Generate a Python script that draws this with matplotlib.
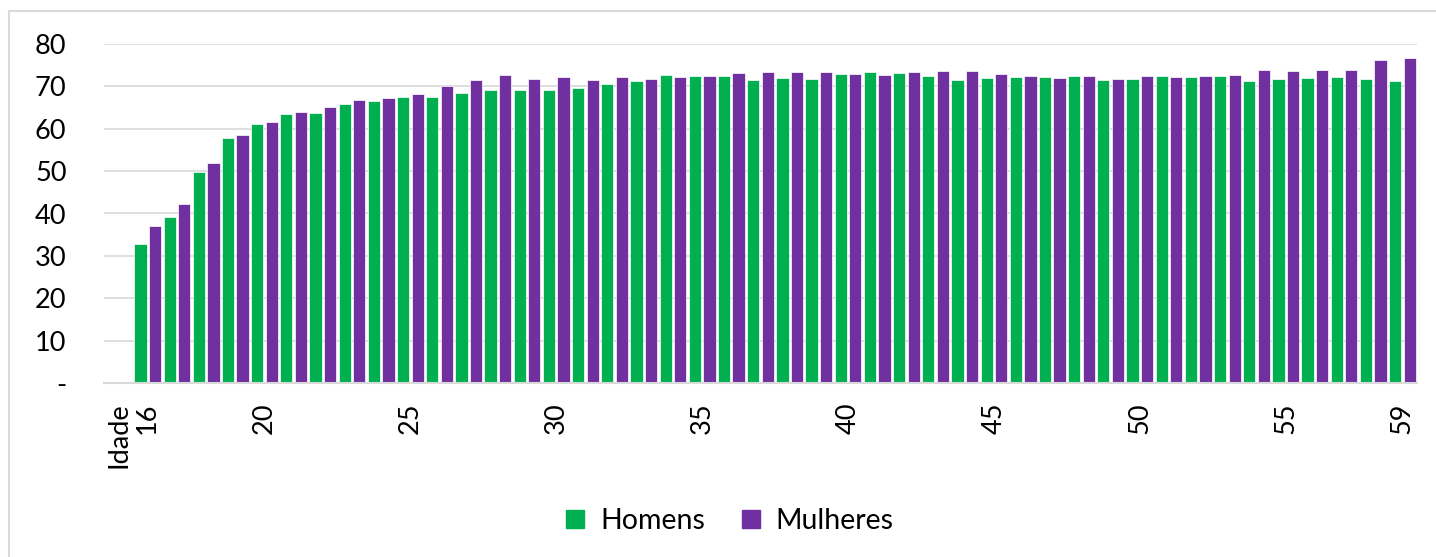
import matplotlib
matplotlib.use("Agg")
import matplotlib.pyplot as plt
import matplotlib.patches as mpatches
import numpy as np

plt.rcParams['font.family'] = ['Lato', 'DejaVu Sans']

categories = ['Idade'] + [str(a) for a in range(16, 60)]
shown_labels = ['Idade', '16', '20', '25', '30', '35', '40', '45', '50', '55', '59']

homens = [None,
          32.9, 39.2, 49.8, 57.8, 61.1, 63.4, 63.7, 65.8, 66.4, 67.4,
          67.5, 68.5, 69.0, 69.1, 69.1, 69.5, 70.6, 71.2, 72.6, 72.5,
          72.4, 71.4, 71.9, 71.6, 72.8, 73.3, 73.2, 72.5, 71.5, 71.9,
          72.1, 72.1, 72.4, 71.5, 71.6, 72.4, 72.2, 72.4, 71.3, 71.7,
          71.9, 72.2, 71.6, 71.2]
mulheres = [None,
            37.1, 42.2, 52.0, 58.4, 61.5, 64.0, 65.0, 66.7, 67.3, 68.2,
            70.0, 71.4, 72.7, 71.7, 72.1, 71.4, 72.1, 71.6, 72.2, 72.4,
            73.1, 73.3, 73.4, 73.3, 72.8, 72.6, 73.3, 73.5, 73.5, 72.8,
            72.3, 71.9, 72.4, 71.8, 72.5, 72.1, 72.5, 72.7, 73.9, 73.5,
            73.9, 73.7, 76.1, 76.7]

W, H = 1436, 557
fig = plt.figure(figsize=(W / 100, H / 100), dpi=100)
ax = fig.add_axes([104 / W, 1 - 383.3 / H, (1417 - 104) / W, (383.3 - 43.7) / H])

green = '#00B050'
purple = '#7030A0'
grid_c = '#D9D9D9'

x = np.arange(len(categories))
hv = np.array([np.nan if v is None else v for v in homens])
mv = np.array([np.nan if v is None else v for v in mulheres])
bw = 0.42
ax.bar(x - 0.25, np.nan_to_num(hv), width=bw, color=green, edgecolor='white',
       linewidth=0.5, label='Homens', zorder=3)
ax.bar(x + 0.25, np.nan_to_num(mv), width=bw, color=purple, edgecolor='white',
       linewidth=0.5, label='Mulheres', zorder=3)

ax.set_xlim(-0.5, len(categories) - 0.5)
ax.set_ylim(0, 80)
yt = list(range(0, 81, 10))
ax.set_yticks(yt)
ax.set_yticklabels(['-'] + [str(v) for v in yt[1:]])
ax.yaxis.grid(True, color=grid_c, linewidth=1.2, zorder=0)
ax.set_axisbelow(True)

tick_pos = [categories.index(l) for l in shown_labels]
ax.set_xticks(tick_pos)
ax.set_xticklabels(shown_labels, rotation=90)

for s in ['top', 'right', 'left']:
    ax.spines[s].set_visible(False)
ax.spines['bottom'].set_color(grid_c)
ax.spines['bottom'].set_linewidth(1.5)
ax.spines['bottom'].set_zorder(4)
ax.tick_params(axis='both', length=0, labelsize=19.5, colors='black')
ax.tick_params(axis='y', pad=27)
ax.tick_params(axis='x', pad=14)

# chart area border
rect = mpatches.Rectangle((9 / W, -0.1), 1.2, 1 - 11 / H + 0.1, transform=fig.transFigure,
                          fill=False, edgecolor=grid_c, linewidth=1.5, clip_on=False)
fig.add_artist(rect)

handles = [mpatches.Patch(color=green, label='Homens'),
           mpatches.Patch(color=purple, label='Mulheres')]
fig.legend(handles=handles, loc='center', bbox_to_anchor=(730 / W, 1 - 521 / H),
           ncol=2, frameon=False, fontsize=20.5, handlelength=0.64, handleheight=0.64,
           handletextpad=0.55, columnspacing=1.3)

fig.savefig('out.png', dpi=100)
